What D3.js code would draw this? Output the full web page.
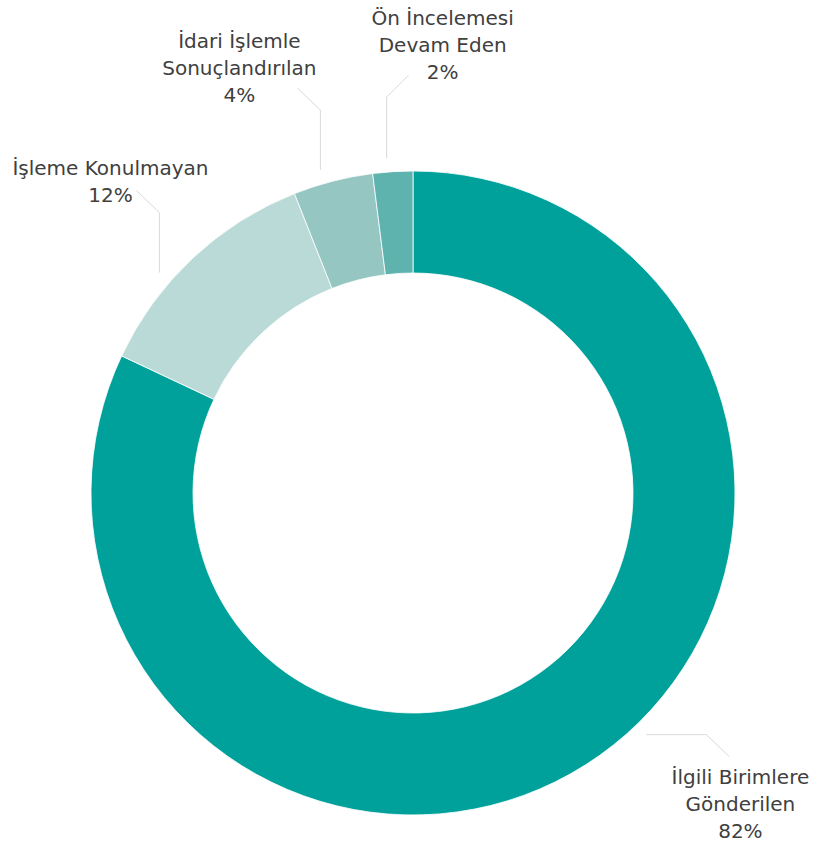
<!DOCTYPE html>
<html>
<head>
<meta charset="utf-8">
<script src="https://cdn.jsdelivr.net/npm/d3@7"></script>
<style>
  body { margin: 0; background: #fff; }
  text { font-family: "DejaVu Sans", sans-serif; fill: #404040; }
</style>
</head>
<body>
<div id="chart"></div>
<script>
const categories = [
    ["İlgili Birimlere", "Gönderilen"],
    ["İşleme Konulmayan"],
    ["İdari İşlemle", "Sonuçlandırılan"],
    ["Ön İncelemesi", "Devam Eden"]
];
const values = [82, 12, 4, 2];
const colors = ["#00A19A", "#BADAD7", "#95C6C2", "#5EB3AE"];

// leader line: start angle (deg), elbow offset, end offset; label anchor offset from line end
const leaders = [
    {angle: 136, elbow: [60, 0], end: [23, 22], label: [11, 27]},
    {angle: 311, elbow: [0, -60], end: [-23, -22], label: [-26, -16]},
    {angle: 344, elbow: [0, -60], end: [-23, -22], label: [-58, -40]},
    {angle: 355.5, elbow: [0, -61], end: [22, -22], label: [34, -50]}
];

const width = 820, height = 842;
const cx = 413, cy = 493;
const outerR = 322, innerR = 220;
const lineH = 27;

const svg = d3.select("#chart").append("svg")
    .attr("width", width)
    .attr("height", height);

const g = svg.append("g")
    .attr("transform", `translate(${cx}, ${cy})`);

const pie = d3.pie().sort(null).value(d => d);
const arcs = pie(values);

const arc = d3.arc()
    .innerRadius(innerR)
    .outerRadius(outerR);

g.selectAll("path.slice")
    .data(arcs)
    .enter().append("path")
    .attr("class", "slice")
    .attr("d", arc)
    .attr("fill", (d, i) => colors[i])
    .attr("stroke", "#fff")
    .attr("stroke-width", 0.8);

const total = d3.sum(values);

arcs.forEach((d, i) => {
    const lay = leaders[i];
    const a = lay.angle * Math.PI / 180;
    const r = outerR + 14;
    const p0 = [r * Math.sin(a), -r * Math.cos(a)];
    const p1 = [p0[0] + lay.elbow[0], p0[1] + lay.elbow[1]];
    const p2 = [p1[0] + lay.end[0], p1[1] + lay.end[1]];

    g.append("path")
        .attr("d", d3.line()([p0, p1, p2]))
        .attr("fill", "none")
        .attr("stroke", "#D9D9D9")
        .attr("stroke-width", 1);

    const lines = categories[i].concat([Math.round(values[i] / total * 100) + "%"]);
    const tx = p2[0] + lay.label[0];
    const ty = p2[1] + lay.label[1];
    const t = g.append("text")
        .attr("text-anchor", "middle")
        .attr("font-size", 20);
    lines.forEach((s, j) => {
        t.append("tspan")
            .attr("x", tx)
            .attr("y", ty + j * lineH)
            .text(s);
    });
});
</script>
</body>
</html>
